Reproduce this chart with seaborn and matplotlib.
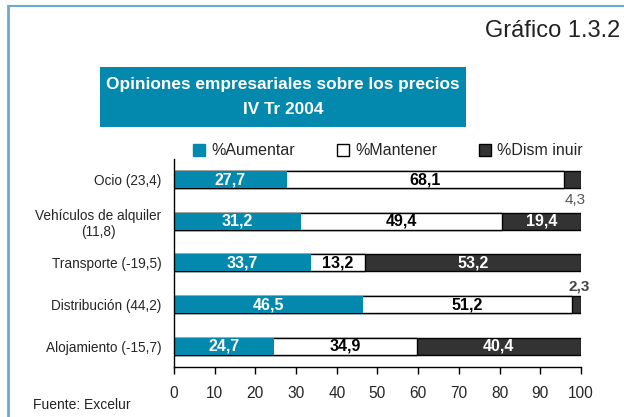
import numpy as np
import pandas as pd
import seaborn as sns
import matplotlib.pyplot as plt
from matplotlib.patches import Patch, Rectangle
from matplotlib.lines import Line2D

# data
categories = ["Ocio (23,4)", "Vehículos de alquiler\n(11,8)", "Transporte (-19,5)",
              "Distribución (44,2)", "Alojamiento (-15,7)"]
aumentar = [27.7, 31.2, 33.7, 46.5, 24.7]
mantener = [68.1, 49.4, 13.2, 51.2, 34.9]
disminuir = [4.3, 19.4, 53.2, 2.3, 40.4]
series_names = ["%Aumentar", "%Mantener", "%Dism inuir"]

teal = "#0389AD"
dark = "#333333"

sns.set_style("white")
plt.rcParams["font.family"] = ["Liberation Sans", "DejaVu Sans"]

df = pd.DataFrame({"cat": categories, "a": aumentar, "m": mantener, "d": disminuir})
df["am"] = df["a"] + df["m"]
df["amd"] = df["am"] + df["d"]

fig = plt.figure(figsize=(6.24, 4.17), dpi=100)
ax = fig.add_axes([0.2788, 0.12, 0.6522, 0.499])

# stacked bars drawn back to front
sns.barplot(data=df, x="amd", y="cat", color=dark, edgecolor="black", linewidth=1,
            width=0.41, saturation=1, ax=ax, orient="h")
sns.barplot(data=df, x="am", y="cat", color="white", edgecolor="black", linewidth=1,
            width=0.41, saturation=1, ax=ax, orient="h")
sns.barplot(data=df, x="a", y="cat", color=teal, linewidth=0,
            width=0.41, saturation=1, ax=ax, orient="h")

# value labels
vfs = 11.5
for i in range(len(categories)):
    a, m, d = aumentar[i], mantener[i], disminuir[i]
    ax.text(a / 2, i, f"{a:.1f}".replace(".", ","), ha="center", va="center",
            color="white", fontsize=vfs, fontweight="bold")
    ax.text(a + m / 2, i, f"{m:.1f}".replace(".", ","), ha="center", va="center",
            color="black", fontsize=vfs, fontweight="bold")
    lab = f"{d:.1f}".replace(".", ",")
    if d > 5:
        ax.text(a + m + d / 2, i, lab, ha="center", va="center",
                color="white", fontsize=vfs, fontweight="bold")
    elif i == 0:
        ax.text(a + m + d - 1.5, i + 0.48, lab, ha="center", va="center",
                color="#555555", fontsize=11)
    else:
        ax.text(a + m + d - 0.5, i - 0.43, lab, ha="center", va="center",
                color="#444444", fontsize=11, fontweight="bold")

ax.set_xlim(0, 100)
ax.set_ylim(4.5, -0.5)
ax.set_xticks(np.arange(0, 101, 10))
ax.set_xlabel("")
ax.set_ylabel("")
ax.tick_params(axis="x", length=5, width=1, direction="out", pad=8.5, labelsize=11.2,
               bottom=True, color="black")
ax.tick_params(axis="y", length=0, pad=9, labelsize=9.8)
for lab in ax.get_yticklabels():
    lab.set_multialignment("center")
sns.despine(ax=ax, top=True, right=True)
ax.spines["left"].set_color("black")
ax.spines["bottom"].set_color("black")
ax.spines["left"].set_linewidth(1)
ax.spines["bottom"].set_linewidth(1)

# legend
handles = [Patch(facecolor=teal, edgecolor=teal),
           Patch(facecolor="white", edgecolor="black", linewidth=1),
           Patch(facecolor=dark, edgecolor="black", linewidth=1)]
fig.legend(handles, series_names, loc="center", bbox_to_anchor=(0.622, 0.638),
           ncol=3, frameon=False, fontsize=11.5, handlelength=0.75, handleheight=0.75,
           handletextpad=0.4, columnspacing=2.6, borderpad=0)

# title box
fig.patches.append(Rectangle((100 / 624, 1 - 127 / 417), 366 / 624, 60 / 417,
                             transform=fig.transFigure, facecolor=teal, edgecolor="none"))
fig.text(283 / 624, 1 - 85 / 417, "Opiniones empresariales sobre los precios",
         ha="center", va="center", color="white", fontsize=12.4, fontweight="bold")
fig.text(283 / 624, 1 - 110 / 417, "IV Tr 2004",
         ha="center", va="center", color="white", fontsize=12.4, fontweight="bold")

fig.text(620 / 624, 1 - 31 / 417, "Gráfico 1.3.2", ha="right", va="center",
         fontsize=17, color="#222222")
fig.text(33 / 624, 1 - 405 / 417, "Fuente: Excelur", ha="left", va="center",
         fontsize=10, color="#222222")

# page frame
frame = "#6AAAD0"
fig.lines.append(Line2D([7.5 / 624, 7.5 / 624], [0, 1 - 5.5 / 417], color=frame,
                        linewidth=2, transform=fig.transFigure))
fig.lines.append(Line2D([7.5 / 624, 1], [1 - 5.5 / 417, 1 - 5.5 / 417], color=frame,
                        linewidth=1.5, transform=fig.transFigure))

fig.savefig("out.png", dpi=100)
